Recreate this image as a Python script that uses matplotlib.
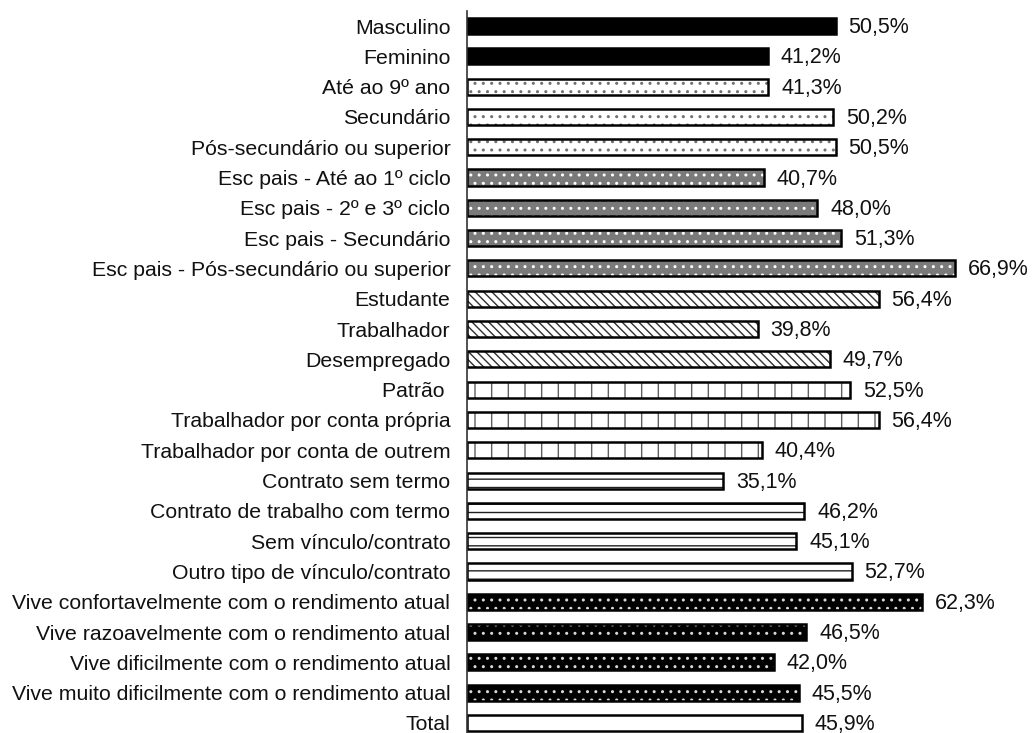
import matplotlib
matplotlib.use("Agg")
import matplotlib.pyplot as plt

categories = [
    "Masculino", "Feminino", "Até ao 9º ano", "Secundário", "Pós-secundário ou superior",
    "Esc pais - Até ao 1º ciclo", "Esc pais - 2º e 3º ciclo", "Esc pais - Secundário",
    "Esc pais - Pós-secundário ou superior", "Estudante", "Trabalhador", "Desempregado",
    "Patrão ", "Trabalhador por conta própria", "Trabalhador por conta de outrem",
    "Contrato sem termo", "Contrato de trabalho com termo", "Sem vínculo/contrato",
    "Outro tipo de vínculo/contrato", "Vive confortavelmente com o rendimento atual",
    "Vive razoavelmente com o rendimento atual", "Vive dificilmente com o rendimento atual",
    "Vive muito dificilmente com o rendimento atual", "Total",
]
values = [50.5, 41.2, 41.3, 50.2, 50.5, 40.7, 48.0, 51.3, 66.9, 56.4, 39.8, 49.7,
          52.5, 56.4, 40.4, 35.1, 46.2, 45.1, 52.7, 62.3, 46.5, 42.0, 45.5, 45.9]
groups = [0, 0, 1, 1, 1, 2, 2, 2, 2, 3, 3, 3, 4, 4, 4, 5, 5, 5, 5, 6, 6, 6, 6, 7]

# group styles: (facecolor, hatch, hatch colour)
styles = {
    0: ("black", None, None),
    1: ("white", "..", "#707070"),
    2: ("#7a7a7a", "..", "white"),
    3: ("white", "\\\\\\\\", "#303030"),
    4: ("white", "|", "#606060"),
    5: ("white", "--", "#202020"),
    6: ("black", "..", "#d8d8d8"),
    7: ("white", None, None),
}

plt.rcParams['font.family'] = ['Liberation Sans', 'DejaVu Sans']
fig = plt.figure(figsize=(10.32, 7.33), dpi=100)
ax = fig.add_axes([467/1032, 0.0, (75*7.3)/1032, 1 - 11/733])

ypos = list(range(len(categories)))
bh = 0.53
fs = 15.5
for y, v, g in zip(ypos, values, groups):
    fc, hatch, hc = styles[g]
    if hatch:
        ax.barh(y, v, height=bh, color=fc, hatch=hatch, edgecolor=hc, linewidth=0)
        ax.barh(y, v, height=bh, fill=False, edgecolor="black", linewidth=1.8)
    else:
        ax.barh(y, v, height=bh, color=fc, edgecolor="black", linewidth=1.8)
    ax.text(v + 1.75, y + 0.05, f"{v:.1f}%".replace(".", ","), va="center", ha="left",
            fontsize=fs, color="#111111", clip_on=False)

ax.set_xlim(0, 75)
ax.set_ylim(23.33, -0.495)
ax.set_yticks(ypos)
ax.set_yticklabels(categories, fontsize=15.3, color="#111111")
ax.tick_params(axis="y", length=0, pad=12)
ax.set_xticks([])
for s in ["top", "right", "bottom"]:
    ax.spines[s].set_visible(False)
ax.spines["left"].set_linewidth(1.2)
ax.spines["left"].set_color("#333333")

fig.savefig("out.png", dpi=100)
